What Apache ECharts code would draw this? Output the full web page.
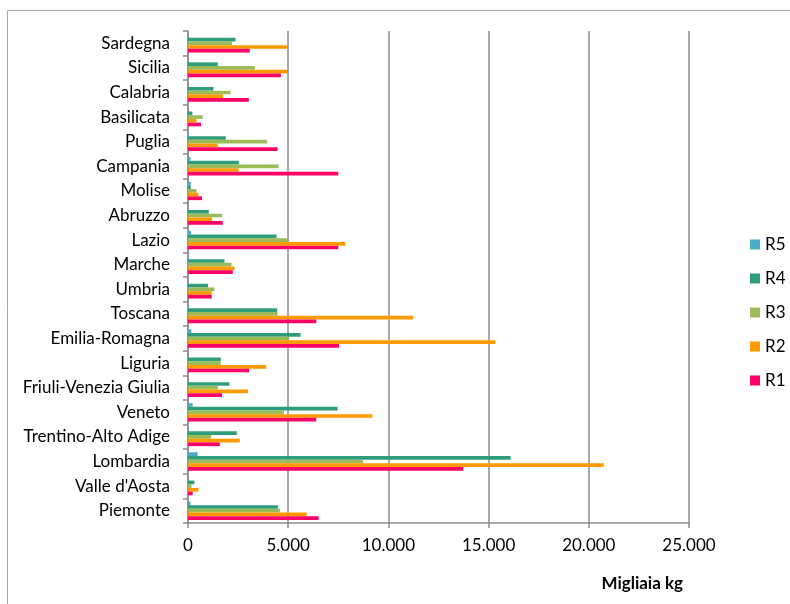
<!DOCTYPE html>
<html>
<head>
<meta charset="utf-8">
<script src="https://cdn.jsdelivr.net/npm/echarts@6/dist/echarts.min.js"></script>
<style>
  html, body { margin: 0; padding: 0; background: #fff; }
  #chart { width: 790px; height: 604px; }
</style>
</head>
<body>
<div id="chart"></div>
<script>
// regions, bottom to top as the category axis runs
const regions = ['Piemonte', "Valle d'Aosta", 'Lombardia', 'Trentino-Alto Adige', 'Veneto',
    'Friuli-Venezia Giulia', 'Liguria', 'Emilia-Romagna', 'Toscana', 'Umbria',
    'Marche', 'Lazio', 'Abruzzo', 'Molise', 'Campania',
    'Puglia', 'Basilicata', 'Calabria', 'Sicilia', 'Sardegna'];

const r1 = [6520, 235, 13735, 1585, 6400, 1700, 3050, 7535, 6400, 1185,
    2235, 7500, 1735, 700, 7500, 4470, 650, 3035, 4635, 3085];
const r2 = [5920, 520, 20750, 2585, 9200, 3000, 3900, 15335, 11235, 1185,
    2320, 7850, 1200, 520, 2520, 1485, 420, 1735, 4980, 4990];
const r3 = [4585, 170, 8735, 1150, 4785, 1485, 1635, 5050, 4470, 1320,
    2170, 5000, 1700, 420, 4515, 3935, 735, 2120, 3335, 2200];
const r4 = [4485, 320, 16100, 2435, 7470, 2070, 1635, 5620, 4450, 1000,
    1820, 4420, 1035, 135, 2535, 1885, 220, 1270, 1485, 2370];
const r5 = [120, 0, 485, 30, 235, 0, 0, 170, 30, 0,
    30, 150, 0, 135, 120, 50, 0, 0, 0, 0];

// first series is drawn on top inside each band, so R5 goes first
const seriesNames = ['R5', 'R4', 'R3', 'R2', 'R1'];
const seriesData = [r5, r4, r3, r2, r1];
const colors = ['#4bacc6', '#2f9c7b', '#9bbb59', '#ff9900', '#ff0066'];

const fontFamily = 'Lato, "Liberation Sans", sans-serif';

function thousands(v) {
    return String(v).replace(/\B(?=(\d{3})+(?!\d))/g, '.');
}

let chartDom = document.getElementById('chart');
let myChart = echarts.init(chartDom);

let series = [];
for (let i = 0; i < seriesNames.length; i++) {
    series.push({
        name: seriesNames[i],
        type: 'bar',
        data: seriesData[i],
        barGap: '0%',
        barCategoryGap: '25%',
        itemStyle: { color: colors[i] }
    });
}

let option = {
    animation: false,
    color: colors,
    textStyle: { fontFamily: fontFamily },
    graphic: [{
        type: 'rect',
        shape: { x: 7.5, y: 10.5, width: 900, height: 700 },
        style: { fill: 'none', stroke: '#a6a6a6', lineWidth: 1 },
        silent: true
    }],
    title: {
        text: 'Migliaia kg',
        right: 102,
        top: 570,
        textStyle: { fontFamily: fontFamily, fontSize: 17, fontWeight: 'bold', color: '#000' }
    },
    legend: {
        orient: 'vertical',
        left: 745,
        top: 231,
        itemWidth: 10,
        itemHeight: 10,
        itemGap: 17,
        icon: 'rect',
        data: ['R5', 'R4', 'R3', 'R2', 'R1'],
        textStyle: { fontFamily: fontFamily, fontSize: 17, color: '#000' }
    },
    grid: {
        left: 188,
        right: 101,
        top: 31,
        bottom: 81,
        containLabel: false
    },
    xAxis: {
        type: 'value',
        min: 0,
        max: 25000,
        interval: 5000,
        axisLine: { show: true, lineStyle: { color: '#8c8c8c', width: 1.5 } },
        axisTick: { show: true, length: 5, lineStyle: { color: '#8c8c8c', width: 1.5 } },
        splitLine: { show: true, lineStyle: { color: '#8c8c8c', width: 1.5 } },
        axisLabel: {
            margin: 14,
            fontSize: 17,
            color: '#000',
            formatter: thousands
        }
    },
    yAxis: {
        type: 'category',
        data: regions,
        axisLine: { show: true, lineStyle: { color: '#8c8c8c', width: 1.5 } },
        axisTick: { show: true, length: 5, lineStyle: { color: '#8c8c8c', width: 1.5 } },
        axisLabel: { margin: 18, fontSize: 17, color: '#000' }
    },
    series
};

option && myChart.setOption(option);
</script>
</body>
</html>
